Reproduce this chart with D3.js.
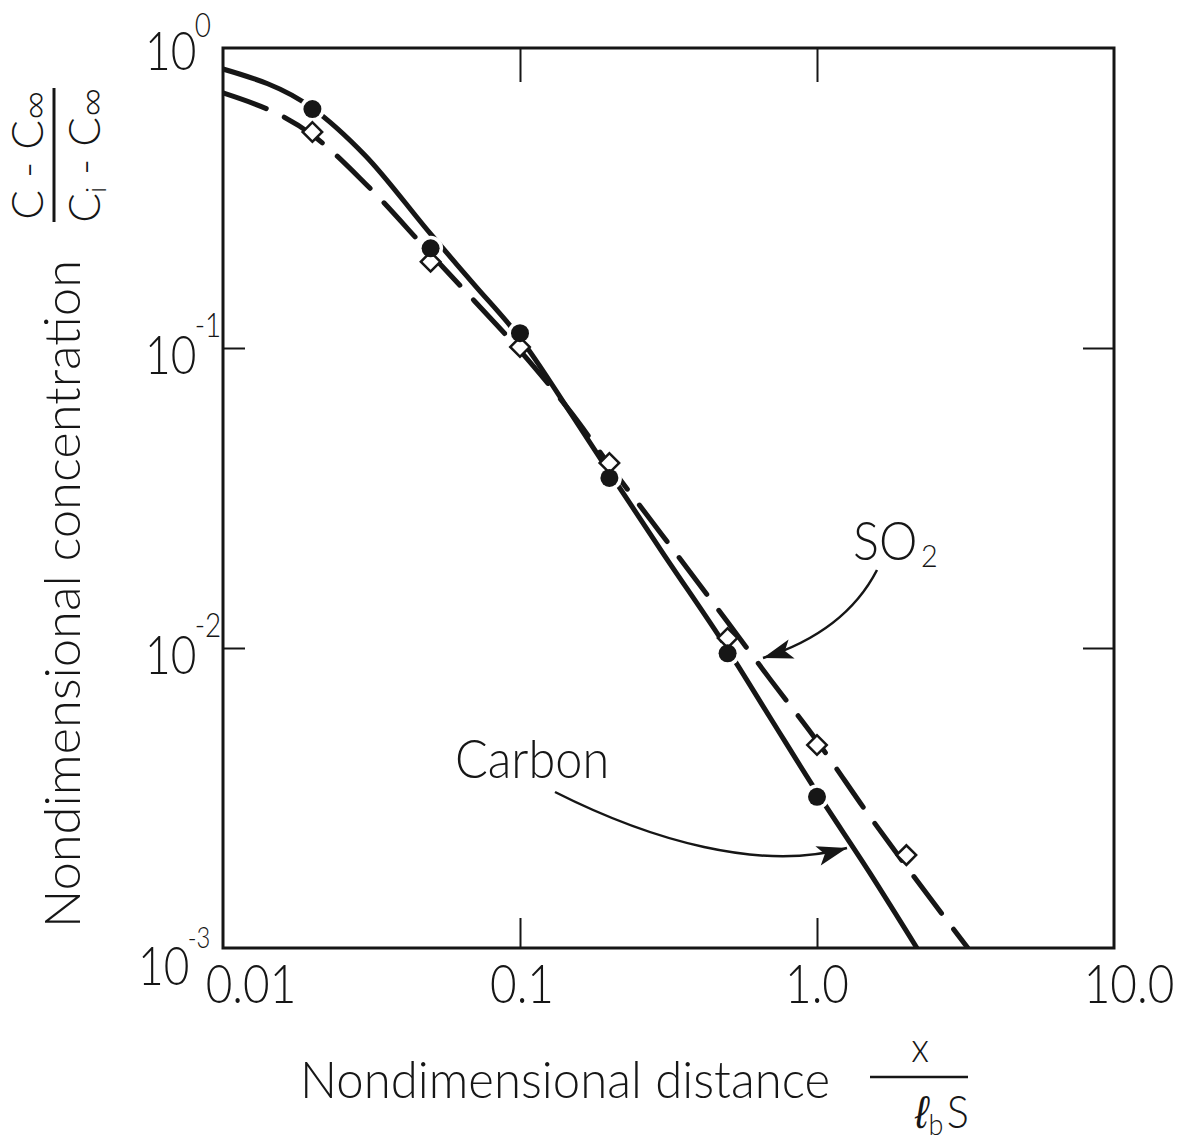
<!DOCTYPE html>
<html>
<head>
<meta charset="utf-8">
<script src="https://d3js.org/d3.v7.min.js"></script>
<style>
  body { margin: 0; background: #fff; }
  svg text { font-family: Lato, "Liberation Sans", Arial, sans-serif; font-weight: 300; fill: #161616; }
</style>
</head>
<body>
<svg id="chart" width="1182" height="1146"></svg>
<script>
// curves: x = x/(l_b S), y = (C - Cinf)/(Ci - Cinf)
var carbonX = [0.01, 0.02, 0.03, 0.05, 0.07, 0.1, 0.15, 0.2, 0.3, 0.5, 0.7, 1.0, 1.5, 2.17];
var carbonY = [0.851, 0.63, 0.44, 0.24, 0.163, 0.108, 0.0595, 0.0385, 0.021, 0.0099, 0.0058, 0.0033, 0.00179, 0.001];
var so2X = [0.01, 0.02, 0.03, 0.05, 0.07, 0.1, 0.15, 0.2, 0.3, 0.5, 0.7, 1.0, 1.5, 2.0, 3.22];
var so2Y = [0.708, 0.513, 0.355, 0.206, 0.144, 0.098, 0.0602, 0.0407, 0.0239, 0.0122, 0.0078, 0.0049, 0.00276, 0.00187, 0.001];

// measured points
var carbonPtX = [0.02, 0.05, 0.1, 0.2, 0.5, 1.0];
var carbonPtY = [0.626, 0.215, 0.112, 0.0369, 0.0096, 0.00319];
var so2PtX = [0.02, 0.05, 0.1, 0.2, 0.5, 1.0, 2.0];
var so2PtY = [0.525, 0.194, 0.1007, 0.0414, 0.0108, 0.00475, 0.00204];

// ticks
var xTicks = [0.01, 0.1, 1, 10];
var xTickLabels = ["0.01", "0.1", "1.0", "10.0"];
var yTicks = [1, 0.1, 0.01, 0.001];
var yTickExp = ["0", "-1", "-2", "-3"];
var xInnerTicks = [0.1, 1];
var yInnerTicks = [0.1, 0.01];

var width = 1182, height = 1146;
var margins = { top: 48, right: 68, bottom: 198, left: 223 };
var plotW = width - margins.left - margins.right;
var plotH = height - margins.top - margins.bottom;
var ink = "#161616";

var svg = d3.select("#chart");
svg.append("rect").attr("width", width).attr("height", height).attr("fill", "#fff");

var xScale = d3.scaleLog().domain([0.01, 10]).range([0, plotW]);
var yScale = d3.scaleLog().domain([0.001, 1]).range([plotH, 0]);

var g = svg.append("g").attr("transform", "translate(" + margins.left + "," + margins.top + ")");

var defs = svg.append("defs");
defs.append("clipPath").attr("id", "plotClip")
    .append("rect").attr("width", plotW).attr("height", plotH);

// inward ticks on all four sides
var axes = [
    { ax: d3.axisLeft(yScale).tickValues(yInnerTicks).tickSize(-22), t: "translate(0,0)" },
    { ax: d3.axisRight(yScale).tickValues(yInnerTicks).tickSize(-31), t: "translate(" + plotW + ",0)" },
    { ax: d3.axisTop(xScale).tickValues(xInnerTicks).tickSize(-34), t: "translate(0,0)" },
    { ax: d3.axisBottom(xScale).tickValues(xInnerTicks).tickSize(-30), t: "translate(0," + plotH + ")" }
];
axes.forEach(function(a) {
    var ag = g.append("g").attr("transform", a.t).call(a.ax.tickFormat(""));
    ag.select(".domain").remove();
    ag.selectAll(".tick line").attr("stroke", ink).attr("stroke-width", 2);
});

g.append("rect").attr("width", plotW).attr("height", plotH)
    .attr("fill", "none").attr("stroke", ink).attr("stroke-width", 3);

// curves
var line = d3.line()
    .x(function(d) { return xScale(d[0]); })
    .y(function(d) { return yScale(d[1]); })
    .curve(d3.curveMonotoneX);

var curves = g.append("g").attr("clip-path", "url(#plotClip)");
curves.append("path").datum(d3.zip(carbonX, carbonY))
    .attr("d", line).attr("fill", "none").attr("stroke", ink)
    .attr("stroke-width", 5).attr("stroke-linecap", "round");
curves.append("path").datum(d3.zip(so2X, so2Y))
    .attr("d", line).attr("fill", "none").attr("stroke", ink)
    .attr("stroke-width", 5).attr("stroke-linecap", "round")
    .attr("stroke-dasharray", "46,20");

// white gaps round the filled points, then the points
var carbonPts = d3.zip(carbonPtX, carbonPtY);
var so2Pts = d3.zip(so2PtX, so2PtY);

g.selectAll(".halo").data(carbonPts).enter().append("circle")
    .attr("class", "halo")
    .attr("cx", function(d) { return xScale(d[0]); })
    .attr("cy", function(d) { return yScale(d[1]); })
    .attr("r", 12.5).attr("fill", "#fff");

g.selectAll(".so2pt").data(so2Pts).enter().append("path")
    .attr("class", "so2pt")
    .attr("d", d3.symbol().type(d3.symbolSquare).size(190))
    .attr("transform", function(d) { return "translate(" + xScale(d[0]) + "," + yScale(d[1]) + ") rotate(45)"; })
    .attr("fill", "#fff").attr("stroke", ink).attr("stroke-width", 2.5);

g.selectAll(".cpt").data(carbonPts).enter().append("circle")
    .attr("class", "cpt")
    .attr("cx", function(d) { return xScale(d[0]); })
    .attr("cy", function(d) { return yScale(d[1]); })
    .attr("r", 9).attr("fill", ink);

// text helper: condensed lettering
function txt(parent, x, y, str, size, anchor, sx) {
    var holder = parent.append("g").attr("transform", "translate(" + x + "," + y + ") scale(" + (sx || 0.85) + ",1)");
    return holder.append("text").attr("font-size", size).attr("text-anchor", anchor || "start").text(str);
}

// y tick labels 10^n (one text each, exponent as raised tspan)
yTicks.forEach(function(v, i) {
    var last = (i == yTicks.length - 1);
    var base = margins.top + yScale(v) + (i == 0 ? 22 : (last ? 37 : 26));
    var t = txt(svg, last ? 138 : 145, base, "10", 54, "start", 0.82);
    t.append("tspan").attr("font-size", last ? 29 : 34)
        .attr("dx", -2).attr("dy", i == 0 ? -33 : -37)
        .text(yTickExp[i]);
});

// x tick labels
var xLabelShift = [28, 2, 0, 15];
xTicks.forEach(function(v, i) {
    txt(svg, margins.left + xScale(v) + xLabelShift[i], 1003, xTickLabels[i], 54, "middle", 0.85);
});

// x title with fraction
svg.append("text").attr("x", 300).attr("y", 1098).attr("font-size", 52)
    .attr("textLength", 530).attr("lengthAdjust", "spacingAndGlyphs")
    .text("Nondimensional distance");
svg.append("line").attr("x1", 870).attr("x2", 968).attr("y1", 1077).attr("y2", 1077)
    .attr("stroke", ink).attr("stroke-width", 2.5);
txt(svg, 920, 1062, "x", 42, "middle", 0.9);
var den = txt(svg, 942, 1128, "", 46, "middle", 0.9);
den.append("tspan").attr("font-family", "Liberation Sans").attr("font-weight", 400)
    .attr("font-style", "italic").text("\u2113");
den.append("tspan").attr("font-size", 30).attr("dy", 7).text("b");
den.append("tspan").attr("dy", -7).attr("dx", 4).text("S");

// y title with fraction (rotated)
var yt = svg.append("g").attr("transform", "translate(80,594) rotate(-90)");
yt.append("text").attr("font-size", 50).attr("text-anchor", "middle")
    .attr("textLength", 668).attr("lengthAdjust", "spacingAndGlyphs")
    .text("Nondimensional concentration");

var fr = svg.append("g").attr("transform", "translate(54,155) rotate(-90)");
fr.append("line").attr("x1", -67).attr("x2", 67).attr("stroke", ink).attr("stroke-width", 3);
var num = fr.append("text").attr("y", -11).attr("font-size", 44).attr("text-anchor", "middle");
num.append("tspan").text("C - C");
num.append("tspan").attr("font-size", 40).attr("dy", 5).text("\u221E");
var dn = fr.append("text").attr("y", 46).attr("font-size", 44).attr("text-anchor", "middle");
dn.append("tspan").text("C");
dn.append("tspan").attr("font-size", 28).attr("dy", 6).text("i");
dn.append("tspan").attr("dy", -6).text(" - C");
dn.append("tspan").attr("font-size", 40).attr("dy", 5).text("\u221E");

// annotations
defs.append("marker").attr("id", "head")
    .attr("viewBox", "-2 -12 34 24").attr("markerWidth", 34).attr("markerHeight", 24)
    .attr("markerUnits", "userSpaceOnUse").attr("refX", 30).attr("refY", 0).attr("orient", "auto")
    .append("path").attr("d", "M0,-10 L30,0 L0,10 L7,0 Z").attr("fill", ink);

var so2Label = txt(svg, 853, 560, "SO", 54, "start", 0.9);
so2Label.append("tspan").attr("font-size", 32).attr("dy", 7).attr("dx", 4).text("2");
svg.append("path").attr("d", "M877,570 Q845,632 763,658")
    .attr("fill", "none").attr("stroke", ink).attr("stroke-width", 2.5).attr("marker-end", "url(#head)");

txt(svg, 455, 778, "Carbon", 54, "start", 0.9);
svg.append("path").attr("d", "M555,792 C650,840 760,872 847,848")
    .attr("fill", "none").attr("stroke", ink).attr("stroke-width", 2.5).attr("marker-end", "url(#head)");
</script>
</body>
</html>
